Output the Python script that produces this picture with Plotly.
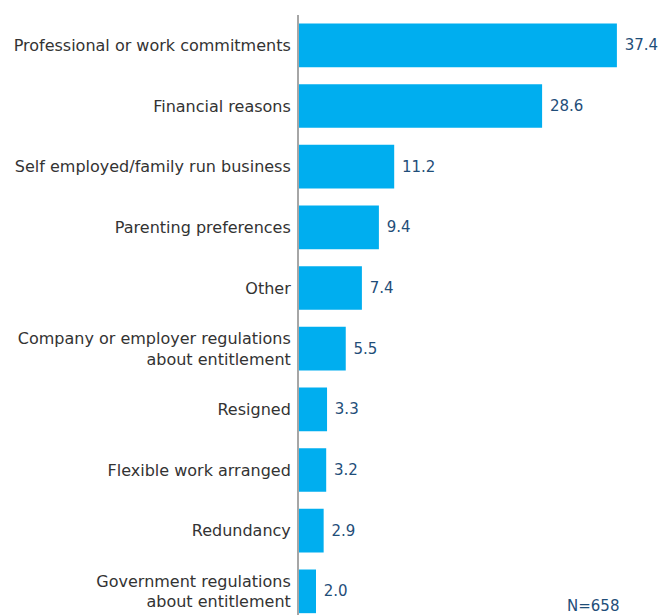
import plotly.graph_objects as go

categories = [
    "Professional or work commitments",
    "Financial reasons",
    "Self employed/family run business",
    "Parenting preferences",
    "Other",
    "Company or employer regulations<br>about entitlement",
    "Resigned",
    "Flexible work arranged",
    "Redundancy",
    "Government regulations<br>about entitlement",
]
values = [37.4, 28.6, 11.2, 9.4, 7.4, 5.5, 3.3, 3.2, 2.9, 2.0]
value_labels = ["\u00a0" + f"{v:.1f}" for v in values]
note = "N=658"

fig = go.Figure(go.Bar(
    x=values,
    y=categories,
    orientation="h",
    marker=dict(color="#00AEEF", line=dict(width=0)),
    text=value_labels,
    textposition="outside",
    textfont=dict(color="#1F4E79", size=15, family="DejaVu Sans"),
    cliponaxis=False,
    constraintext="none",
    width=0.72,
    hoverinfo="skip",
))

fig.update_layout(
    width=659, height=615,
    margin=dict(l=299, r=20, t=15, b=0, autoexpand=False),
    paper_bgcolor="white", plot_bgcolor="white",
    showlegend=False,
    font=dict(family="DejaVu Sans", size=16, color="#333333"),
    xaxis=dict(range=[0, 40], visible=False, showgrid=False, zeroline=False, automargin=False),
    yaxis=dict(
        type="category",
        categoryorder="array", categoryarray=categories,
        range=[9.39, -0.5],
        automargin=False,
        showline=True, linecolor="#A6A6A6", linewidth=2,
        showgrid=False, zeroline=False,
        ticks="", ticklabelstandoff=3,
        tickfont=dict(size=16, color="#333333", family="DejaVu Sans"),
    ),
    annotations=[dict(
        text=note, xref="paper", yref="paper", x=0.947, y=0.015,
        xanchor="right", yanchor="middle", showarrow=False,
        font=dict(size=15, color="#1F4E79", family="DejaVu Sans"),
    )],
)

fig.write_html(
    "out.html",
    config={"displayModeBar": False},
    post_script="document.body.style.margin='0';document.body.style.overflow='hidden';",
)
